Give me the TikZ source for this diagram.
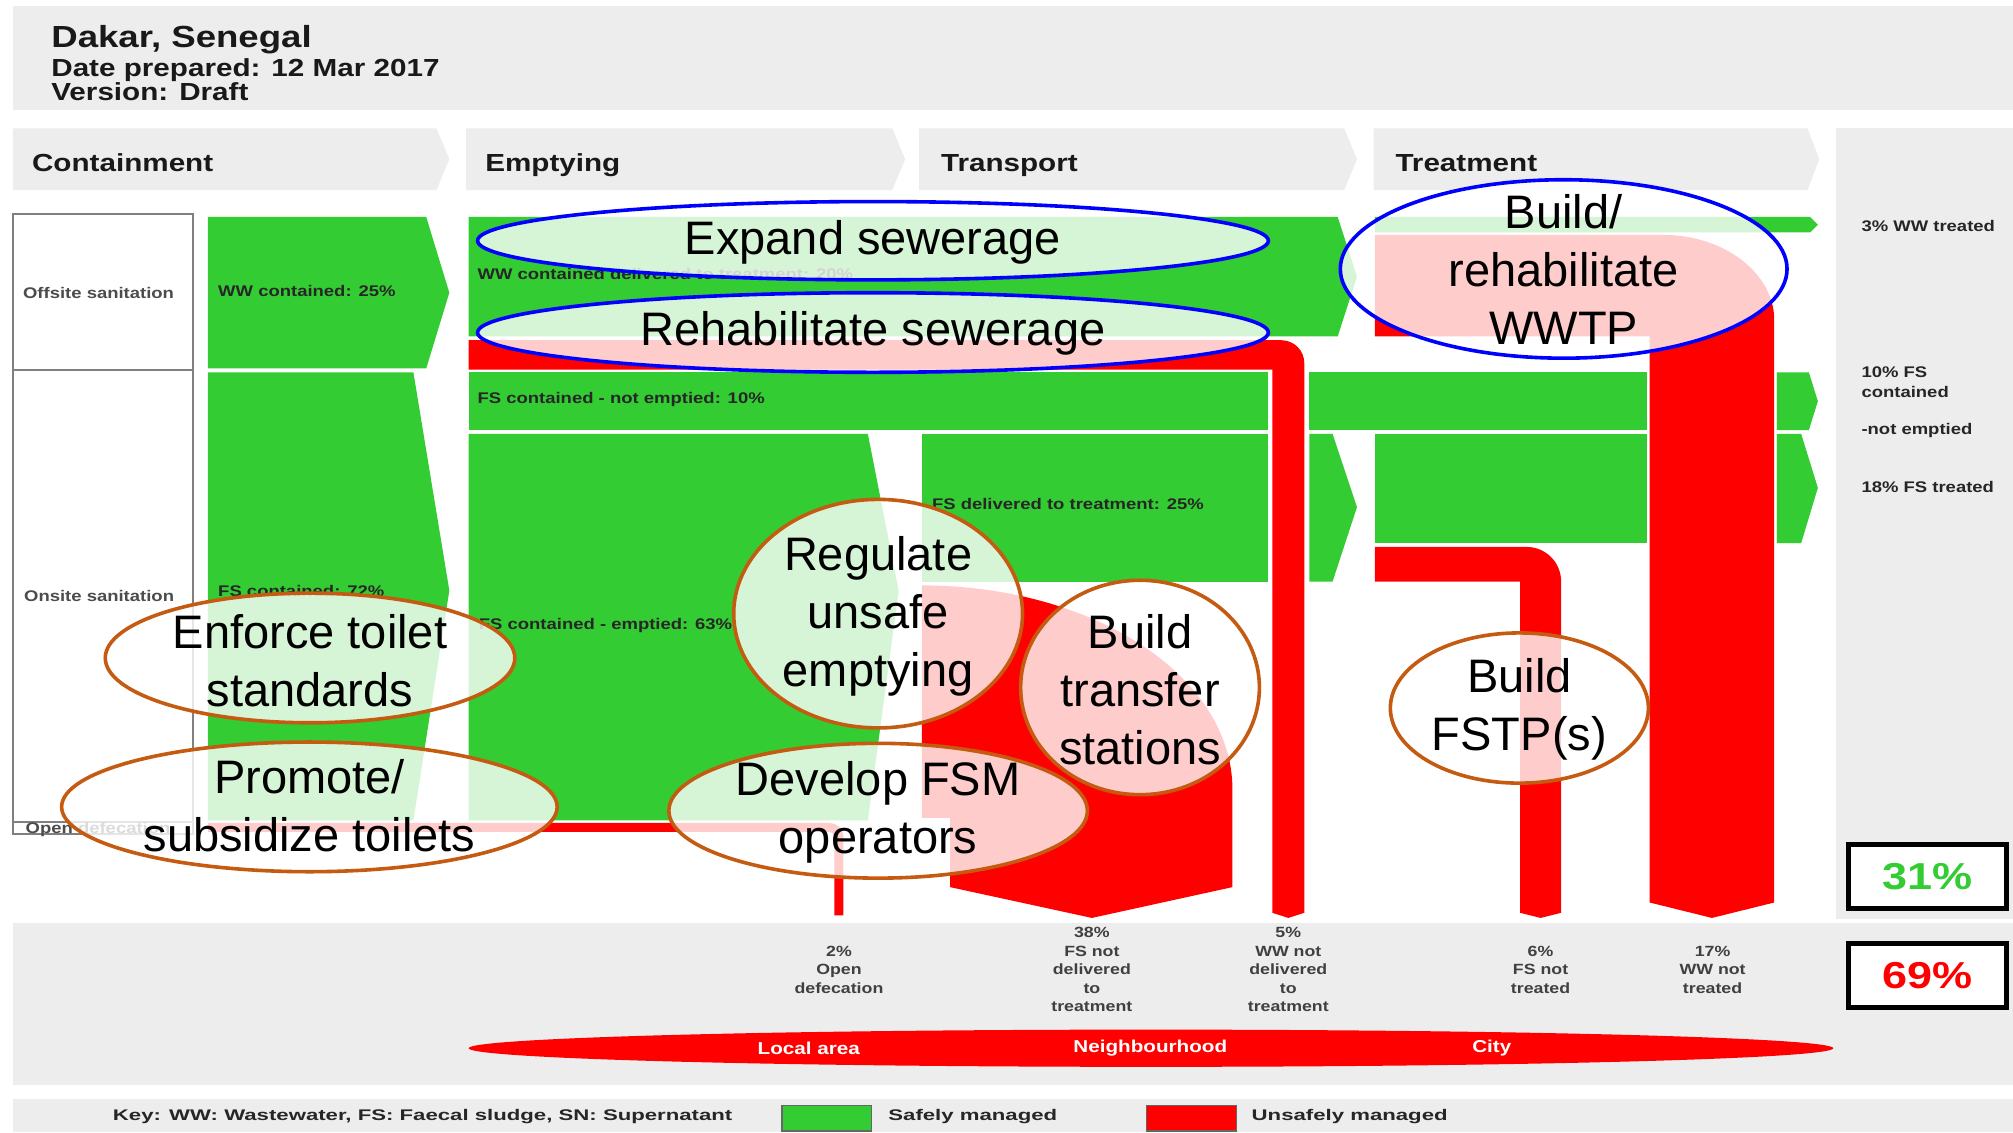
\documentclass[tikz,border=0pt]{standalone}
\usepackage{fontspec}
\setmainfont{Liberation Sans}[FakeStretch=1.2]
\newfontfamily\ellfont{Liberation Sans}
\usetikzlibrary{shapes.geometric}
\definecolor{sfdgreen}{HTML}{33CC33}
\definecolor{sfdred}{HTML}{FF0000}
\definecolor{bggrey}{HTML}{EDEDED}
\definecolor{boxgrey}{HTML}{808080}
\definecolor{ellblue}{HTML}{0000FF}
\definecolor{ellbrown}{HTML}{C55A11}
\definecolor{txtdark}{HTML}{262626}
\tikzset{
  plain/.style={inner sep=0pt, outer sep=0pt},
  titletxt/.style={plain, anchor=base west, text=black!90, font=\fontsize{30.5}{36}\selectfont\bfseries},
  subtxt/.style={plain, anchor=base west, text=black!90, font=\fontsize{24.7}{30}\selectfont\bfseries},
  hdrtxt/.style={plain, anchor=base west, text=black!90, font=\fontsize{24.7}{30}\selectfont\bfseries},
  lbl/.style={plain, anchor=base west, text=txtdark, font=\fontsize{15.4}{18}\selectfont\bfseries},
  sidelbl/.style={plain, anchor=base west, text=black!70, font=\fontsize{15.4}{18}\selectfont\bfseries},
  botlbl/.style={plain, anchor=north, align=center, text=black!75, font=\fontsize{14.8}{18.4}\selectfont\bfseries},
  scalelbl/.style={plain, anchor=center, text=white, font=\fontsize{17.2}{20}\selectfont\bfseries},
  keytxt/.style={plain, anchor=west, text=txtdark, font=\fontsize{15.4}{18}\selectfont\bfseries},
  pcttxt/.style={plain, anchor=center, font=\fontsize{37.5}{40}\selectfont\bfseries},
  ellshape/.style={fill=white, fill opacity=0.8, line width=3.6pt},
  elltxt/.style={plain, align=center, text=black, font=\ellfont\fontsize{47}{57.8}\selectfont},
  greenflow/.style={fill=sfdgreen},
  redflow/.style={fill=sfdred},
  sidebox/.style={draw=boxgrey, line width=2pt},
  pctbox/.style={draw=black, line width=5pt, fill=white}
}
\begin{document}
\begin{tikzpicture}[x=1.2838pt, y=-1.2838pt]
\useasboundingbox (0,0) rectangle (1568,882);
\fill[white] (0,0) rectangle (1568,882);
% ---------- backgrounds
\fill[bggrey] (10,5) rectangle (1568,86);
\fill[bggrey] (10,100) -- (340,100) -- (350,124) -- (340,148) -- (10,148) -- cycle;
\fill[bggrey] (363,100) -- (695,100) -- (705,124) -- (695,148) -- (363,148) -- cycle;
\fill[bggrey] (716,100) -- (1047,100) -- (1057,124) -- (1047,148) -- (716,148) -- cycle;
\fill[bggrey] (1070,100) -- (1408,100) -- (1417,124) -- (1408,148) -- (1070,148) -- cycle;
\fill[bggrey] (1430,100) rectangle (1568,716);
\fill[bggrey] (10,719) rectangle (1568,845);
\fill[bggrey] (10,856) rectangle (1568,882);
% ---------- title and headers
\node[titletxt] (title) at (40,36.7) {Dakar, Senegal};
\node[subtxt] (date) at (40,59.2) {Date prepared: 12 Mar 2017};
\node[subtxt] (version) at (40,78) {Version: Draft};
\node[hdrtxt] (hcont) at (25,133.7) {Containment};
\node[hdrtxt] (hempt) at (378,133.7) {Emptying};
\node[hdrtxt] (htran) at (733,133.7) {Transport};
\node[hdrtxt] (htreat) at (1087,133.7) {Treatment};
% ---------- side boxes
\draw[sidebox] (10,167) rectangle (150,288);
\draw[sidebox] (10,288) rectangle (150,640);
\draw[sidebox] (10,640) rectangle (150,650);
\node[sidelbl] (offsite) at (18,232.9) {Offsite sanitation};
\node[sidelbl] (onsite) at (18.8,468.7) {Onsite sanitation};
\node[sidelbl] (opendef) at (20,649) {Open defecation};
% ---------- green flows
\fill[greenflow] (162,169) -- (332,169) -- (350,228) -- (332,287) -- (162,287) -- cycle;
\fill[greenflow] (162,290) -- (322,290) -- (350,460) -- (322,639) -- (162,639) -- cycle;
\fill[greenflow] (365,169) -- (1042,169) -- (1057,215.5) -- (1042,262) -- (365,262) -- cycle;
\fill[greenflow] (365,290) rectangle (988,335);
\fill[greenflow] (1020,290) rectangle (1283,335);
\fill[greenflow] (1384,290) -- (1409,290) -- (1416,312.5) -- (1409,335) -- (1384,335) -- cycle;
\fill[greenflow] (365,338) -- (676,338) -- (700,460) -- (676,639) -- (365,639) -- cycle;
\fill[greenflow] (718,338) rectangle (988,453);
\fill[greenflow] (1020,338) -- (1038,338) -- (1057,395) -- (1038,453) -- (1020,453) -- cycle;
\fill[greenflow] (1071,338) rectangle (1283,423);
\fill[greenflow] (1384,338) -- (1403,338) -- (1416,380) -- (1403,423) -- (1384,423) -- cycle;
\fill[greenflow] (1071,169) -- (1410,169) -- (1416,175) -- (1410,181) -- (1071,181) -- cycle;
% ---------- red flows
\draw[sfdred, line width=9pt, rounded corners=10pt] (162,644.5) -- (653.5,644.5) -- (653.5,713);
\fill[redflow] (365,265) -- (998,265) .. controls (1008,265) and (1016,273) .. (1016,283)
   -- (1016,711) -- (1003.5,715) -- (991,711) -- (991,288) -- (365,288) -- cycle;
\fill[redflow] (1071,183) -- (1296,183) .. controls (1343,183) and (1382,213) .. (1382,249)
   -- (1382,703) -- (1333.5,715) -- (1285,703) -- (1285,262) -- (1071,262) -- cycle;
\fill[redflow] (1071,426) -- (1189,426) .. controls (1204,426) and (1216,438) .. (1216,453)
   -- (1216,711) -- (1200,715) -- (1184,711) -- (1184,453) -- (1071,453) -- cycle;
\fill[redflow] (718,456) .. controls (852,456) and (960,527) .. (960,615)
   -- (960,691) -- (850.5,715) -- (740,691) -- (740,637) -- (718,637) -- cycle;
% ---------- flow labels
\node[lbl] (wwcont) at (170,230.6) {WW contained: 25\%};
\node[lbl] (fscont) at (170,465) {FS contained: 72\%};
\node[lbl] (wwdel) at (372,218) {WW contained delivered to treatment: 20\%};
\node[lbl] (fsnotemp) at (372,314) {FS contained - not emptied: 10\%};
\node[lbl] (fsemp) at (373,490) {FS contained - emptied: 63\%};
\node[lbl] (fsdel) at (726,397) {FS delivered to treatment: 25\%};
% ---------- right column labels
\node[lbl] (wwtreat) at (1450,180) {3\% WW treated};
\node[lbl] (fsnot1) at (1450,294) {10\% FS};
\node[lbl] (fsnot2) at (1450,309.8) {contained};
\node[lbl] (fsnot3) at (1450,338.8) {-not emptied};
\node[lbl] (fstreat) at (1450,384) {18\% FS treated};
% ---------- bottom labels
\node[botlbl] (od) at (653.5,737) {2\%\\Open\\defecation};
\node[botlbl] (fsnd) at (850.5,722.5) {38\%\\FS not\\delivered\\to\\treatment};
\node[botlbl] (wwnd) at (1003.5,722.5) {5\%\\WW not\\delivered\\to\\treatment};
\node[botlbl] (fsnt) at (1200,737) {6\%\\FS not\\treated};
\node[botlbl] (wwnt) at (1334,737) {17\%\\WW not\\treated};
% ---------- percentage boxes
\draw[pctbox] (1440,658) rectangle (1563,708);
\node[pcttxt, text=sfdgreen] (safe) at (1501.5,683) {31\%};
\draw[pctbox] (1440,735) rectangle (1563,785);
\node[pcttxt, text=sfdred] (unsafe) at (1501.5,760) {69\%};
% ---------- scale lens
\fill[sfdred] (896.5,816.5) ellipse [x radius=531.5, y radius=14.5];
\node[scalelbl] (local) at (630,816.5) {Local area};
\node[scalelbl] (neigh) at (896,816.5) {Neighbourhood};
\node[scalelbl] (city) at (1162,816.5) {City};
% ---------- key
\node[keytxt] (key) at (88,870) {\scalebox{1.2}[1]{Key: WW: Wastewater, FS: Faecal sludge, SN: Supernatant}};
\draw[fill=sfdgreen, draw=black!60, line width=1.5pt] (609,861) rectangle (679,881);
\node[keytxt] (keysafe) at (692,870) {\scalebox{1.2}[1]{Safely managed}};
\draw[fill=sfdred, draw=black!60, line width=1.5pt] (893,861) rectangle (963,881);
\node[keytxt] (keyunsafe) at (975,870) {\scalebox{1.2}[1]{Unsafely managed}};
% ---------- intervention ellipses
\draw[ellshape, draw=ellblue] (680,187.5) ellipse [x radius=308, y radius=30.5];
\node[elltxt] (expand) at (680,189) {Expand sewerage};
\draw[ellshape, draw=ellblue] (680,259) ellipse [x radius=308, y radius=31];
\node[elltxt] (rehab) at (680,260) {Rehabilitate sewerage};
\draw[ellshape, draw=ellblue] (1218,209.5) ellipse [x radius=174, y radius=69.5];
\node[elltxt] (wwtp) at (1218,210) {Build/\\rehabilitate\\WWTP};
\draw[ellshape, draw=ellbrown] (241.5,512.5) ellipse [x radius=159.5, y radius=50.5];
\node[elltxt] (enforce) at (241.5,514.5) {Enforce toilet\\standards};
\draw[ellshape, draw=ellbrown] (241,628.5) ellipse [x radius=193, y radius=50.5];
\node[elltxt] (promote) at (241,627.5) {Promote/\\subsidize toilets};
\draw[ellshape, draw=ellbrown] (684,478) ellipse [x radius=112.5, y radius=89];
\node[elltxt] (regulate) at (684,480) {Regulate\\unsafe\\emptying};
\draw[ellshape, draw=ellbrown] (888,535.5) ellipse [x radius=93, y radius=83.5];
\node[elltxt] (transfer) at (888,537) {Build\\transfer\\stations};
\draw[ellshape, draw=ellbrown] (684,631.5) ellipse [x radius=163, y radius=52.5];
\node[elltxt] (fsm) at (684,632.5) {Develop FSM\\operators};
\draw[ellshape, draw=ellbrown] (1183.5,551.5) ellipse [x radius=100.5, y radius=58.5];
\node[elltxt] (fstp) at (1183.5,552.5) {Build\\FSTP(s)};
\end{tikzpicture}
\end{document}
